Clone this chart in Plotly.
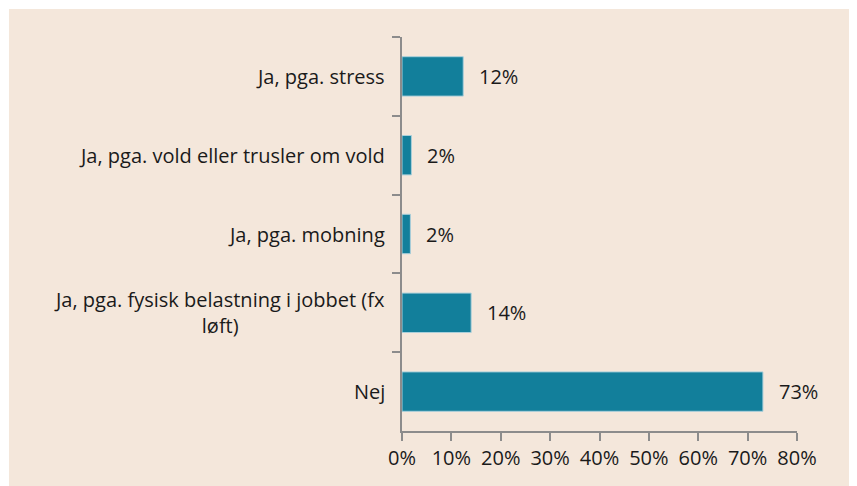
import plotly.graph_objects as go

categories = ['Ja, pga. stress',
              'Ja, pga. vold eller trusler om vold',
              'Ja, pga. mobning',
              'Ja, pga. fysisk belastning i jobbet (fx<br>løft)',
              'Nej']
values = [12.4, 1.9, 1.7, 14.0, 73.1]
x_ticks = [0, 10, 20, 30, 40, 50, 60, 70, 80]

bg = '#F4E7DB'
bar_color = '#127F9B'
axis_color = '#8C8C8C'
font_family = 'Open Sans, Noto Sans, sans-serif'

fig = go.Figure(go.Bar(
    y=categories,
    x=values,
    orientation='h',
    width=0.5,
    marker=dict(color=bar_color, line=dict(color='#A9CFDA', width=1)),
))

# value labels right of each bar
for cat, val in zip(categories, values):
    fig.add_annotation(x=val, y=cat, text=f'{val:.0f}%', showarrow=False,
                       xanchor='left', xshift=14,
                       font=dict(size=20, color='#1a1a1a', family=font_family))

# category labels, centred when wrapped
for cat in categories:
    fig.add_annotation(x=0, xref='paper', y=cat, text=cat, showarrow=False,
                       xanchor='right', xshift=-15, align='center',
                       font=dict(size=20, color='#1a1a1a', family=font_family))

# beige panel with thin white strip at top and left
fig.add_shape(type='rect', xref='paper', yref='paper',
              x0=-0.995, x1=1.2, y0=-0.2, y1=1.071,
              fillcolor=bg, line_width=0, layer='below')

fig.update_layout(
    width=849, height=478,
    margin=dict(l=394, r=60, t=29, b=55),
    paper_bgcolor='white',
    plot_bgcolor='rgba(0,0,0,0)',
    showlegend=False,
    font=dict(family=font_family, size=20, color='#1a1a1a'),
    bargap=0.5,
)

fig.update_xaxes(range=[0, 80], tickvals=x_ticks,
                 ticktext=[f'{t}%' for t in x_ticks],
                 showgrid=False, zeroline=False,
                 showline=True, linecolor=axis_color, linewidth=1.5,
                 ticks='outside', ticklen=8, tickwidth=1.5, tickcolor=axis_color,
                 tickfont=dict(size=20))

fig.update_yaxes(autorange='reversed', showticklabels=False,
                 showgrid=False, zeroline=False,
                 showline=True, linecolor=axis_color, linewidth=1.5,
                 ticks='outside', ticklen=8, tickwidth=1.5, tickcolor=axis_color,
                 tickson='boundaries')

fig.write_html("out.html")
